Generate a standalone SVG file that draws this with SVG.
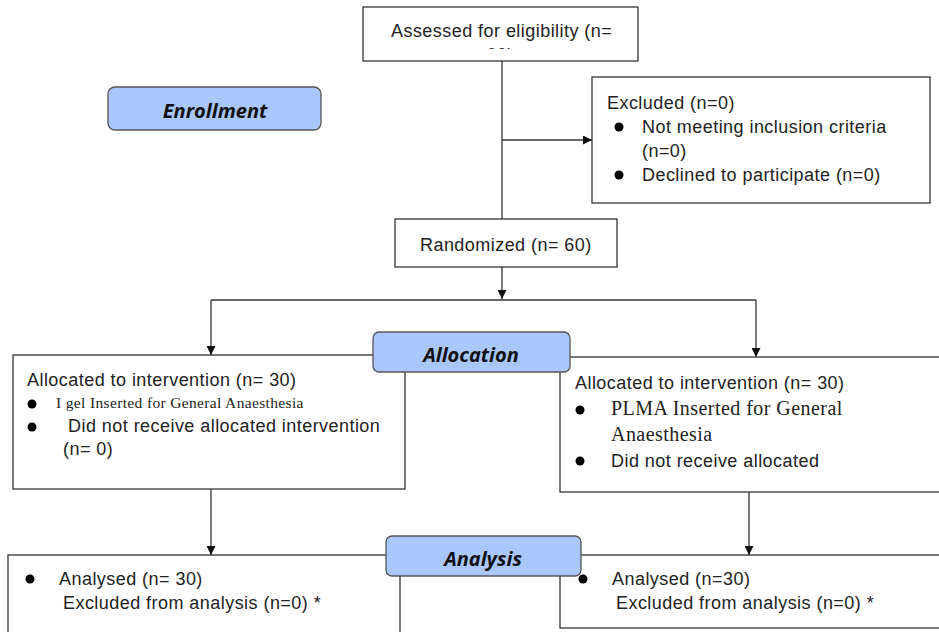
<svg xmlns="http://www.w3.org/2000/svg" width="939" height="632" viewBox="0 0 939 632">
<defs>
<style>
.box{fill:#fff;stroke:#333;stroke-width:1.3}
.stage{fill:#a9c7fa;stroke:#555;stroke-width:1.3}
.t{font-family:"Liberation Sans",Arial,sans-serif;font-size:18px;letter-spacing:0.45px;fill:#222}
.s{font-family:"Liberation Serif","Times New Roman",serif;fill:#222}
.h{font-family:"Open Sans",Lato,sans-serif;font-size:20px;font-weight:bold;font-style:italic;fill:#111;text-anchor:middle}
.ln{stroke:#333;stroke-width:1.3;fill:none}
.dot{fill:#000}
</style>
<marker id="ah" viewBox="0 0 10 10" refX="10" refY="5" markerWidth="9" markerHeight="9" markerUnits="userSpaceOnUse" orient="auto">
<path d="M0,0 L10,5 L0,10 z" fill="#111"/>
</marker>
<clipPath id="cl"><rect x="363" y="0" width="276" height="49"/></clipPath>
</defs>

<g id="connectors">
<line class="ln" x1="502" y1="61" x2="502" y2="219"/>
<line class="ln" x1="502" y1="140" x2="592" y2="140" marker-end="url(#ah)"/>
<line class="ln" x1="502" y1="267" x2="502" y2="299" marker-end="url(#ah)"/>
<line class="ln" x1="211" y1="300" x2="756" y2="300"/>
<line class="ln" x1="211" y1="300" x2="211" y2="355" marker-end="url(#ah)"/>
<line class="ln" x1="756" y1="300" x2="756" y2="357" marker-end="url(#ah)"/>
<line class="ln" x1="211" y1="489" x2="211" y2="555" marker-end="url(#ah)"/>
<line class="ln" x1="749" y1="492" x2="749" y2="555" marker-end="url(#ah)"/>
</g>

<g id="assessed">
<rect class="box" x="363" y="7" width="275" height="54"/>
<text class="t" x="391" y="37">Assessed for eligibility (n=</text>
<text class="t" x="500" y="61" text-anchor="middle" clip-path="url(#cl)">60)</text>
</g>

<g id="enrollment">
<rect class="stage" x="108" y="87" width="213" height="43" rx="7"/>
<text class="h" x="215" y="118">Enrollment</text>
</g>

<g id="excluded">
<rect class="box" x="592" y="77" width="338" height="126"/>
<text class="t" x="607" y="109">Excluded (n=0)</text>
<circle class="dot" cx="619" cy="127" r="4.5"/>
<text class="t" x="642" y="133">Not meeting inclusion criteria</text>
<text class="t" x="642" y="157">(n=0)</text>
<circle class="dot" cx="619" cy="175" r="4.5"/>
<text class="t" x="642" y="181">Declined to participate (n=0)</text>
</g>

<g id="randomized">
<rect class="box" x="395" y="219" width="222" height="48"/>
<text class="t" x="420" y="251">Randomized (n= 60)</text>
</g>

<g id="alloc-left">
<rect class="box" x="13" y="355" width="392" height="134"/>
<text class="t" x="27" y="386">Allocated to intervention (n= 30)</text>
<circle class="dot" cx="32" cy="404" r="4.5"/>
<text class="s" x="56" y="408" font-size="15.5" letter-spacing="0.35">I gel Inserted for General Anaesthesia</text>
<circle class="dot" cx="32" cy="427" r="4.5"/>
<text class="t" x="68" y="432">Did not receive allocated intervention</text>
<text class="t" x="63" y="455">(n= 0)</text>
</g>

<g id="alloc-right">
<rect class="box" x="560" y="357" width="385" height="135"/>
<text class="t" x="575" y="389">Allocated to intervention (n= 30)</text>
<circle class="dot" cx="580" cy="410" r="4.5"/>
<text class="s" x="611" y="415" font-size="20" letter-spacing="0.45">PLMA Inserted for General</text>
<text class="s" x="611" y="441" font-size="20" letter-spacing="0.45">Anaesthesia</text>
<circle class="dot" cx="580" cy="461" r="4.5"/>
<text class="t" x="611" y="467">Did not receive allocated</text>
</g>

<g id="allocation">
<rect class="stage" x="373" y="332" width="197" height="40" rx="6"/>
<text class="h" x="471" y="362">Allocation</text>
</g>

<g id="analysis-left">
<rect class="box" x="8" y="555" width="392" height="90"/>
<circle class="dot" cx="30" cy="579" r="4.5"/>
<text class="t" x="59" y="585">Analysed (n= 30)</text>
<text class="t" x="63" y="609">Excluded from analysis (n=0) *</text>
</g>

<g id="analysis-right">
<rect class="box" x="560" y="555" width="385" height="73"/>
<text class="t" x="612" y="585">Analysed (n=30)</text>
<text class="t" x="616" y="609">Excluded from analysis (n=0) *</text>
</g>

<g id="analysis">
<rect class="stage" x="386" y="536" width="195" height="40" rx="6"/>
<text class="h" x="483" y="566">Analysis</text>
</g>
<circle class="dot" cx="583" cy="579" r="4.5"/>
</svg>
